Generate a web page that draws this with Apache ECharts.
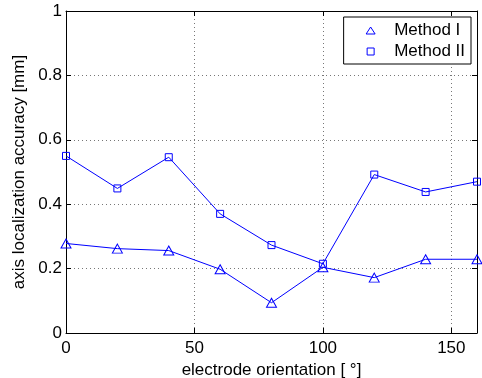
<!DOCTYPE html>
<html>
<head>
<meta charset="utf-8">
<script src="https://cdn.jsdelivr.net/npm/echarts@6/dist/echarts.min.js"></script>
<style>
  html, body { margin: 0; padding: 0; background: #fff; }
  #chart { width: 482px; height: 378px; }
</style>
</head>
<body>
<div id="chart"></div>
<script>
// electrode orientation in degrees
const orientations = [0, 20, 40, 60, 80, 100, 120, 140, 160];
// axis localization accuracy [mm]
const methodOne = [0.278, 0.262, 0.256, 0.198, 0.094, 0.204, 0.172, 0.229, 0.229];
const methodTwo = [0.55, 0.449, 0.546, 0.37, 0.273, 0.215, 0.492, 0.438, 0.47];
const xTicks = [0, 50, 100, 150];
const yTicks = ['0', '0.2', '0.4', '0.6', '0.8', '1'];

const blue = '#0000ff';
const font = 'Liberation Sans, Arial, Helvetica, sans-serif';

const pairs = (ys) => orientations.map((x, i) => [x, ys[i]]);

const chart = echarts.init(document.getElementById('chart'));

// plain axis on the top / right to close the box, ticks only
const boxAxis = (pos) => ({
  position: pos,
  type: 'value',
  axisLine: { show: true, onZero: false, lineStyle: { color: '#000', width: 1 } },
  axisTick: { show: true, inside: true, length: 5, lineStyle: { color: '#000' } },
  axisLabel: { show: false },
  splitLine: { show: false },
});

const option = {
  animation: false,
  backgroundColor: '#fff',
  grid: { left: 66, right: 5, top: 11, bottom: 45, containLabel: false, outerBoundsMode: 'none' },
  legend: {
    right: 11,
    top: 17,
    orient: 'vertical',
    backgroundColor: '#fff',
    borderColor: '#000',
    borderWidth: 1,
    borderRadius: 0,
    padding: [5, 6, 4, 22],
    itemGap: 4,
    itemWidth: 9,
    itemHeight: 7,
    symbolKeepAspect: true,
    formatter: (name) => '{gap|}' + name,
    textStyle: {
      fontFamily: font, fontSize: 17, color: '#000',
      rich: { gap: { width: 14 } },
    },
    data: [
      { name: 'Method I', icon: 'triangle', itemStyle: { color: 'transparent', borderColor: blue, borderWidth: 1 } },
      { name: 'Method II', icon: 'path://M0,0L1,0L1,1L0,1Z', itemStyle: { color: 'transparent', borderColor: blue, borderWidth: 1 } },
    ],
    selectedMode: false,
  },
  xAxis: [
    {
      type: 'value',
      min: 0,
      max: 160,
      interval: 50,
      name: 'electrode orientation [ °]',
      nameLocation: 'middle',
      nameGap: 26,
      nameTextStyle: { fontFamily: font, fontSize: 17, color: '#000' },
      axisLine: { show: true, onZero: false, lineStyle: { color: '#000', width: 1 } },
      axisTick: { show: true, inside: true, length: 5, lineStyle: { color: '#000' } },
      axisLabel: {
        fontFamily: font, fontSize: 17, color: '#000', margin: 7,
        showMaxLabel: false,
        formatter: (v) => (xTicks.includes(v) ? String(v) : ''),
      },
      splitLine: { show: true, lineStyle: { color: '#777', type: [1, 3], width: 1 } },
    },
    Object.assign(boxAxis('top'), { min: 0, max: 160, interval: 50 }),
  ],
  yAxis: [
    {
      type: 'value',
      min: 0,
      max: 1,
      interval: 0.2,
      name: 'axis localization accuracy [mm]',
      nameLocation: 'middle',
      nameGap: 32,
      nameTextStyle: { fontFamily: font, fontSize: 17, color: '#000' },
      axisLine: { show: true, onZero: false, lineStyle: { color: '#000', width: 1 } },
      axisTick: { show: true, inside: true, length: 5, lineStyle: { color: '#000' } },
      axisLabel: {
        fontFamily: font, fontSize: 17, color: '#000', margin: 4,
        formatter: (v) => yTicks[Math.round(v * 5)],
      },
      splitLine: { show: true, lineStyle: { color: '#777', type: [1, 3], width: 1 } },
    },
    Object.assign(boxAxis('right'), { min: 0, max: 1, interval: 0.2 }),
  ],
  series: [
    {
      name: 'Method I',
      type: 'line',
      data: pairs(methodOne),
      symbol: 'triangle',
      symbolSize: [10, 9],
      showAllSymbol: true,
      lineStyle: { color: blue, width: 1 },
      itemStyle: { color: 'transparent', borderColor: blue, borderWidth: 1 },
      emphasis: { disabled: true },
      z: 3,
    },
    {
      name: 'Method II',
      type: 'line',
      data: pairs(methodTwo),
      symbol: 'rect',
      symbolSize: 7,
      showAllSymbol: true,
      lineStyle: { color: blue, width: 1 },
      itemStyle: { color: 'transparent', borderColor: blue, borderWidth: 1 },
      emphasis: { disabled: true },
      z: 3,
    },
  ],
};

chart.setOption(option);
</script>
</body>
</html>
